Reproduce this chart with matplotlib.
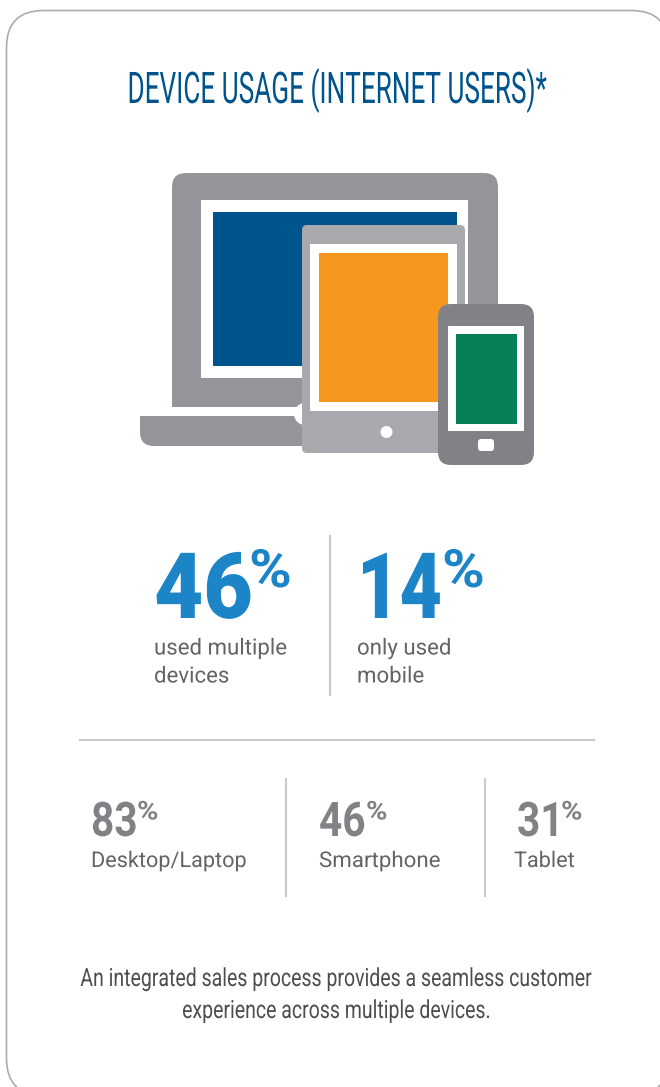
import matplotlib
matplotlib.use('Agg')
import matplotlib.pyplot as plt
from matplotlib.patches import FancyBboxPatch, Rectangle, Circle
from matplotlib.patheffects import AbstractPathEffect
from matplotlib.transforms import Affine2D

# page text
title = 'DEVICE USAGE (INTERNET USERS)*'
footer = ['An integrated sales process provides a seamless customer',
          'experience across multiple devices.']

# headline stats
big_values = [46, 14]
big_labels = [['used multiple', 'devices'], ['only used', 'mobile']]

# stats per device
device_values = [83, 46, 31]
device_labels = ['Desktop/Laptop', 'Smartphone', 'Tablet']

BLUE = '#1c85c7'
NAVY = '#00548c'
GREY = '#808285'
TEXT = '#636466'
RULE = '#c9cacb'

HEIGHT = 1087
body = ['Roboto', 'DejaVu Sans']

fig = plt.figure(figsize=(6.6, 10.87), dpi=100)
ax = fig.add_axes([0, 0, 1, 1])
ax.set_xlim(0, 660)
ax.set_ylim(HEIGHT, 0)
ax.axis('off')


class Stretch(AbstractPathEffect):
    # stretches text vertically from its baseline, no condensed font is installed
    def __init__(self, sy, baseline):
        super().__init__()
        self.sy = sy
        self.baseline = baseline

    def draw_path(self, renderer, gc, tpath, affine, rgbFace=None):
        stretch = Affine2D().translate(0, -self.baseline).scale(1, self.sy).translate(0, self.baseline)
        renderer.draw_path(gc, tpath, affine + stretch, rgbFace)


def round_box(x0, y0, x1, y1, r, color, z=2, **kw):
    p = FancyBboxPatch((x0 + r, y0 + r), x1 - x0 - 2 * r, y1 - y0 - 2 * r,
                       boxstyle='round,pad=%s,rounding_size=%s' % (r, r),
                       fc=color, ec=kw.get('ec', 'none'), lw=kw.get('lw', 0), zorder=z)
    ax.add_patch(p)


def rect(x0, y0, x1, y1, color, z=2):
    ax.add_patch(Rectangle((x0, y0), x1 - x0, y1 - y0, fc=color, ec='none', zorder=z))


def label(x, y, s, size, color, sx=1.0, ha='left', weight='normal'):
    # size is the glyph height, sx how wide the glyphs run against that height
    ax.text(x, y, s, fontsize=size * sx, color=color, family=body, weight=weight, ha=ha,
            va='baseline', zorder=12, path_effects=[Stretch(1 / sx, HEIGHT - y)])


# card outline, runs off the right and bottom
round_box(6.5, 10.5, 668.5, 1095.5, 37, 'white', z=1, ec='#a9abae', lw=1.2)

label(337, 103, title, 31.4, NAVY, sx=0.6, ha='center')

# laptop
round_box(172, 173, 498, 480, 14, '#939598', z=2)
rect(160, 406.5, 520, 490, 'white', z=2.1)
round_box(140, 416, 330, 446, 14, '#939598', z=2.2)
rect(140, 416, 330, 430, '#939598', z=2.3)
rect(201, 200, 468, 378, 'white', z=3)
rect(213, 212, 457, 366, NAVY, z=4)

# tablet
ax.add_patch(Circle((305, 414), 11, fc='white', ec='none', zorder=4.5))
round_box(302, 225, 465, 453, 5, '#a7a9ac', z=5)
rect(310, 244, 457, 411, 'white', z=6)
rect(319, 253, 448, 402, '#f8971d', z=7)
ax.add_patch(Circle((386.5, 432), 6, fc='white', ec='none', zorder=7))

# phone
round_box(438, 304, 534, 465, 13, '#808285', z=8)
rect(448, 326, 524, 431, 'white', z=9)
rect(456, 333.5, 517, 423.5, '#067e58', z=10)
round_box(478, 439, 494, 451, 3, 'white', z=10)

# headline stats
for x, value, lab, sx, px in zip([154, 357], big_values, big_labels, [0.93, 0.8], [249, 442]):
    label(x, 618, str(value), 66, BLUE, sx=sx, weight=900)
    label(px, 587, '%', 38, BLUE, sx=1.1, weight='bold')
    label(x, 654.5, lab[0], 16, TEXT)
    label(x, 682.5, lab[1], 16, TEXT)
ax.plot([329.5, 329.5], [536, 695], color=RULE, lw=1.5)
ax.plot([80, 594], [740, 740], color=RULE, lw=1.5)

# per device stats
for x, lx, value, lab, px, lsx in zip([91, 319, 517], [91, 319, 514], device_values, device_labels,
                                      [137, 366, 561], [1.0, 1.03, 1.0]):
    label(x, 836, str(value), 34.4, GREY, sx=0.85, weight='bold')
    label(px, 819.5, '%', 18.7, GREY, sx=1.12, weight='bold')
    label(lx, 867, lab, 15.6, TEXT, sx=lsx)
for x in [286, 485]:
    ax.plot([x, x], [779, 896], color=RULE, lw=1.5)

for y, line in zip([986, 1018], footer):
    label(337, y, line, 18, '#4d4d4f', sx=0.78, ha='center')

fig.savefig('out.png', dpi=100)
